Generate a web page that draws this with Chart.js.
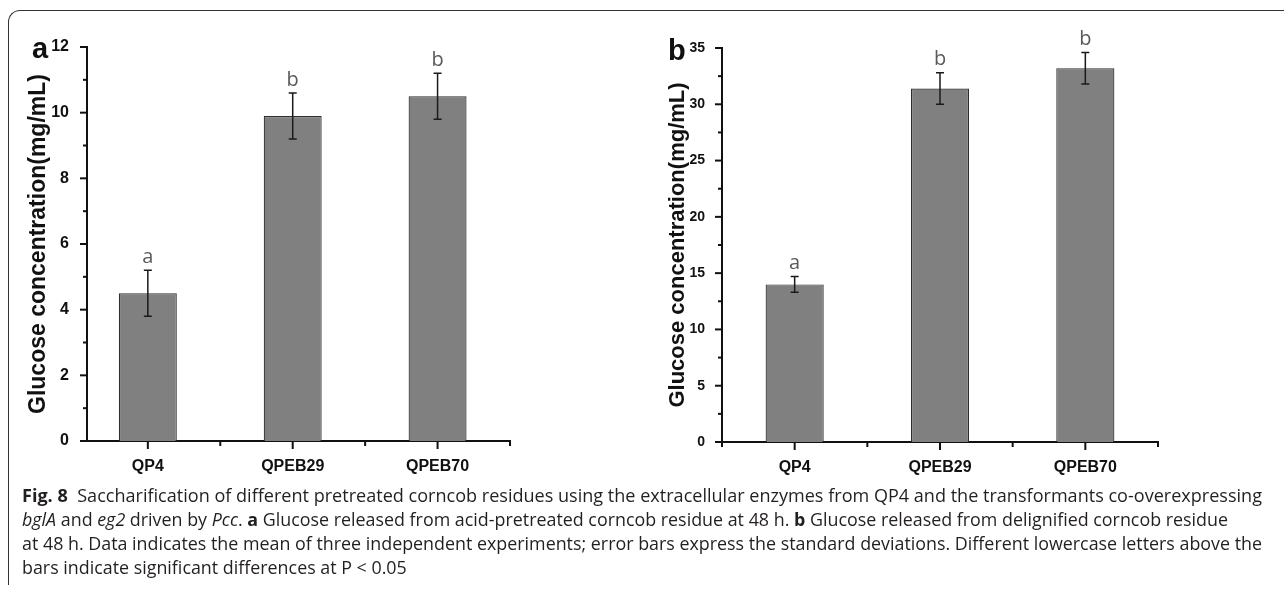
<!DOCTYPE html>
<html>
<head>
<meta charset="utf-8">
<script src="https://cdn.jsdelivr.net/npm/chart.js@4.4.1/dist/chart.umd.min.js"></script>
<style>
  body { margin: 0; width: 1284px; height: 590px; background: #fff; position: relative; overflow: hidden; }
  .frame { position: absolute; left: 8px; top: 10px; width: 1300px; height: 574px;
           border-top: 1.5px solid #333; border-left: 1.5px solid #333; border-top-left-radius: 12px; }
  #boxA { position: absolute; left: 0; top: 0; }
  #boxB { position: absolute; left: 640px; top: 0; }
  .panel { position: absolute; font: bold 29px Arial, "Liberation Sans", sans-serif; line-height: 28px; color: #111; }
  .caption { position: absolute; left: 22px; top: 483px; font-family: "Open Sans", sans-serif; font-size: 18px;
             line-height: 24px; color: #231f20; white-space: nowrap; }
  .caption div { height: 24px; }
  .caption span.ln { display: inline-block; transform-origin: 0 0; }
  .caption .fig { font-weight: bold; }
</style>
</head>
<body>
<div class="frame"></div>
<canvas id="boxA" width="640" height="490"></canvas>
<canvas id="boxB" width="644" height="490"></canvas>
<div class="panel" style="left:32px;top:34px">a</div>
<div class="panel" style="left:668px;top:36px">b</div>
<div class="caption" id="caption">
  <div><span class="ln" data-w="1240"><span class="fig">Fig. 8</span>&nbsp; Saccharification of different pretreated corncob residues using the extracellular enzymes from QP4 and the transformants co-overexpressing</span></div>
  <div><span class="ln" data-w="1206"><i>bglA</i> and <i>eg2</i> driven by <i>Pcc</i>. <b>a</b> Glucose released from acid-pretreated corncob residue at 48 h. <b>b</b> Glucose released from delignified corncob residue</span></div>
  <div><span class="ln" data-w="1240">at 48 h. Data indicates the mean of three independent experiments; error bars express the standard deviations. Different lowercase letters above the</span></div>
  <div><span class="ln">bars indicate significant differences at P &lt; 0.05</span></div>
</div>
<script>
// valores
const categories = ['QP4', 'QPEB29', 'QPEB70'];

const glucoseA = [4.5, 9.9, 10.5];
const sdA = [0.7, 0.7, 0.7];
const lettersA = ['a', 'b', 'b'];
const yTicksA = [0, 2, 4, 6, 8, 10, 12];

const glucoseB = [14.0, 31.4, 33.2];
const sdB = [0.7, 1.4, 1.4];
const lettersB = ['a', 'b', 'b'];
const yTicksB = [0, 5, 10, 15, 20, 25, 30, 35];

const axisFont = 'Arial, "Liberation Sans", sans-serif';

// barras de erro, letras e marcas dos eixos
const extras = {
  id: 'extras',
  afterDatasetsDraw(chart, args, opts) {
    const { ctx, scales: { x, y } } = chart;
    ctx.save();
    ctx.strokeStyle = '#1a1a1a';
    ctx.lineWidth = 1.5;
    opts.means.forEach((m, i) => {
      const px = x.getPixelForValue(i + 1);
      const top = y.getPixelForValue(m + opts.sd[i]);
      const bot = y.getPixelForValue(m - opts.sd[i]);
      ctx.beginPath();
      ctx.moveTo(px, top); ctx.lineTo(px, bot);
      ctx.moveTo(px - 4, top); ctx.lineTo(px + 4, top);
      ctx.moveTo(px - 4, bot); ctx.lineTo(px + 4, bot);
      ctx.stroke();
      ctx.fillStyle = '#5a5a5a';
      ctx.font = '20px "Open Sans", sans-serif';
      ctx.textAlign = 'center';
      ctx.textBaseline = 'bottom';
      ctx.fillText(opts.letters[i], px, top - 3);
    });
    ctx.restore();
  },
  afterDraw(chart, args, opts) {
    const { ctx, scales: { x, y }, chartArea } = chart;
    ctx.save();
    ctx.strokeStyle = '#111';
    ctx.lineWidth = 2;
    // eixo y: maiores e menores
    const n = Math.round(y.max / opts.yMinor);
    for (let k = 0; k <= n; k++) {
      const v = k * opts.yMinor;
      const py = y.getPixelForValue(v);
      const major = opts.yTicks.some(t => Math.abs(t - v) < 1e-6);
      ctx.beginPath();
      ctx.moveTo(chartArea.left, py);
      ctx.lineTo(chartArea.left - (major ? 7 : 4), py);
      ctx.stroke();
    }
    // eixo x
    for (let k = 1; k <= categories.length * 2 + 1; k++) {
      const v = k / 2;
      if (v < x.min) continue;
      const px = x.getPixelForValue(v);
      const major = k % 2 === 0;
      ctx.beginPath();
      ctx.moveTo(px, chartArea.bottom);
      ctx.lineTo(px, chartArea.bottom + (major ? 8 : 5));
      ctx.stroke();
    }
    ctx.restore();
  }
};

function criarGrafico(id, valores, sd, letras, yTicks, yMinor, cfg) {
  return new Chart(document.getElementById(id), {
    type: 'bar',
    data: {
      datasets: [{
        data: categories.map((c, i) => ({ x: i + 1, y: valores[i] })),
        backgroundColor: '#808080',
        borderColor: '#2e2e2e',
        borderWidth: 1.2,
        barPercentage: 0.4,
        categoryPercentage: 1
      }]
    },
    options: {
      responsive: false,
      animation: false,
      layout: { padding: cfg.padding },
      plugins: {
        legend: { display: false },
        tooltip: { enabled: false },
        extras: { means: valores, sd: sd, letters: letras, yTicks: yTicks, yMinor: yMinor }
      },
      scales: {
        x: {
          type: 'linear',
          offset: false,
          min: cfg.xMin,
          max: categories.length + 0.5,
          afterBuildTicks: s => { s.ticks = categories.map((c, i) => ({ value: i + 1 })); },
          ticks: {
            callback: v => categories[v - 1] || '',
            font: { family: axisFont, weight: 'bold', size: 16 },
            color: '#111',
            padding: 8,
            maxRotation: 0
          },
          grid: { display: false, offset: false },
          border: { display: true, color: '#111', width: 2 },
          afterFit: s => { s.height = cfg.xHeight; }
        },
        y: {
          min: 0,
          max: yTicks[yTicks.length - 1],
          afterBuildTicks: s => { s.ticks = yTicks.map(v => ({ value: v })); },
          ticks: {
            font: { family: axisFont, weight: 'bold', size: cfg.tickSize },
            color: '#111',
            padding: cfg.tickPad
          },
          grid: { display: false },
          border: { display: true, color: '#111', width: 2 },
          title: {
            display: true,
            text: 'Glucose concentration(mg/mL)',
            font: { family: axisFont, weight: 'bold', size: cfg.titleSize },
            color: '#111',
            padding: { top: cfg.titlePad, bottom: 0 }
          },
          afterFit: s => { s.width = cfg.yWidth; }
        }
      }
    },
    plugins: [extras]
  });
}

criarGrafico('boxA', glucoseA, sdA, lettersA, yTicksA, 1,
  { padding: { top: 47, right: 130, left: 0, bottom: 0 }, xMin: 0.58, xHeight: 49, yWidth: 87,
    titlePad: 25, titleSize: 23, tickSize: 16, tickPad: 10 });
criarGrafico('boxB', glucoseB, sdB, lettersB, yTicksB, 2.5,
  { padding: { top: 48, right: 126, left: 0, bottom: 0 }, xMin: 0.5, xHeight: 48, yWidth: 82,
    titlePad: 25, titleSize: 22, tickSize: 14, tickPad: 9 });

// ajustar as linhas da legenda à largura do original
let escala = 1;
document.querySelectorAll('.caption .ln').forEach(el => {
  if (el.dataset.w) {
    escala = +el.dataset.w / el.getBoundingClientRect().width;
  }
  el.style.transform = 'scaleX(' + escala + ')';
});
</script>
</body>
</html>
